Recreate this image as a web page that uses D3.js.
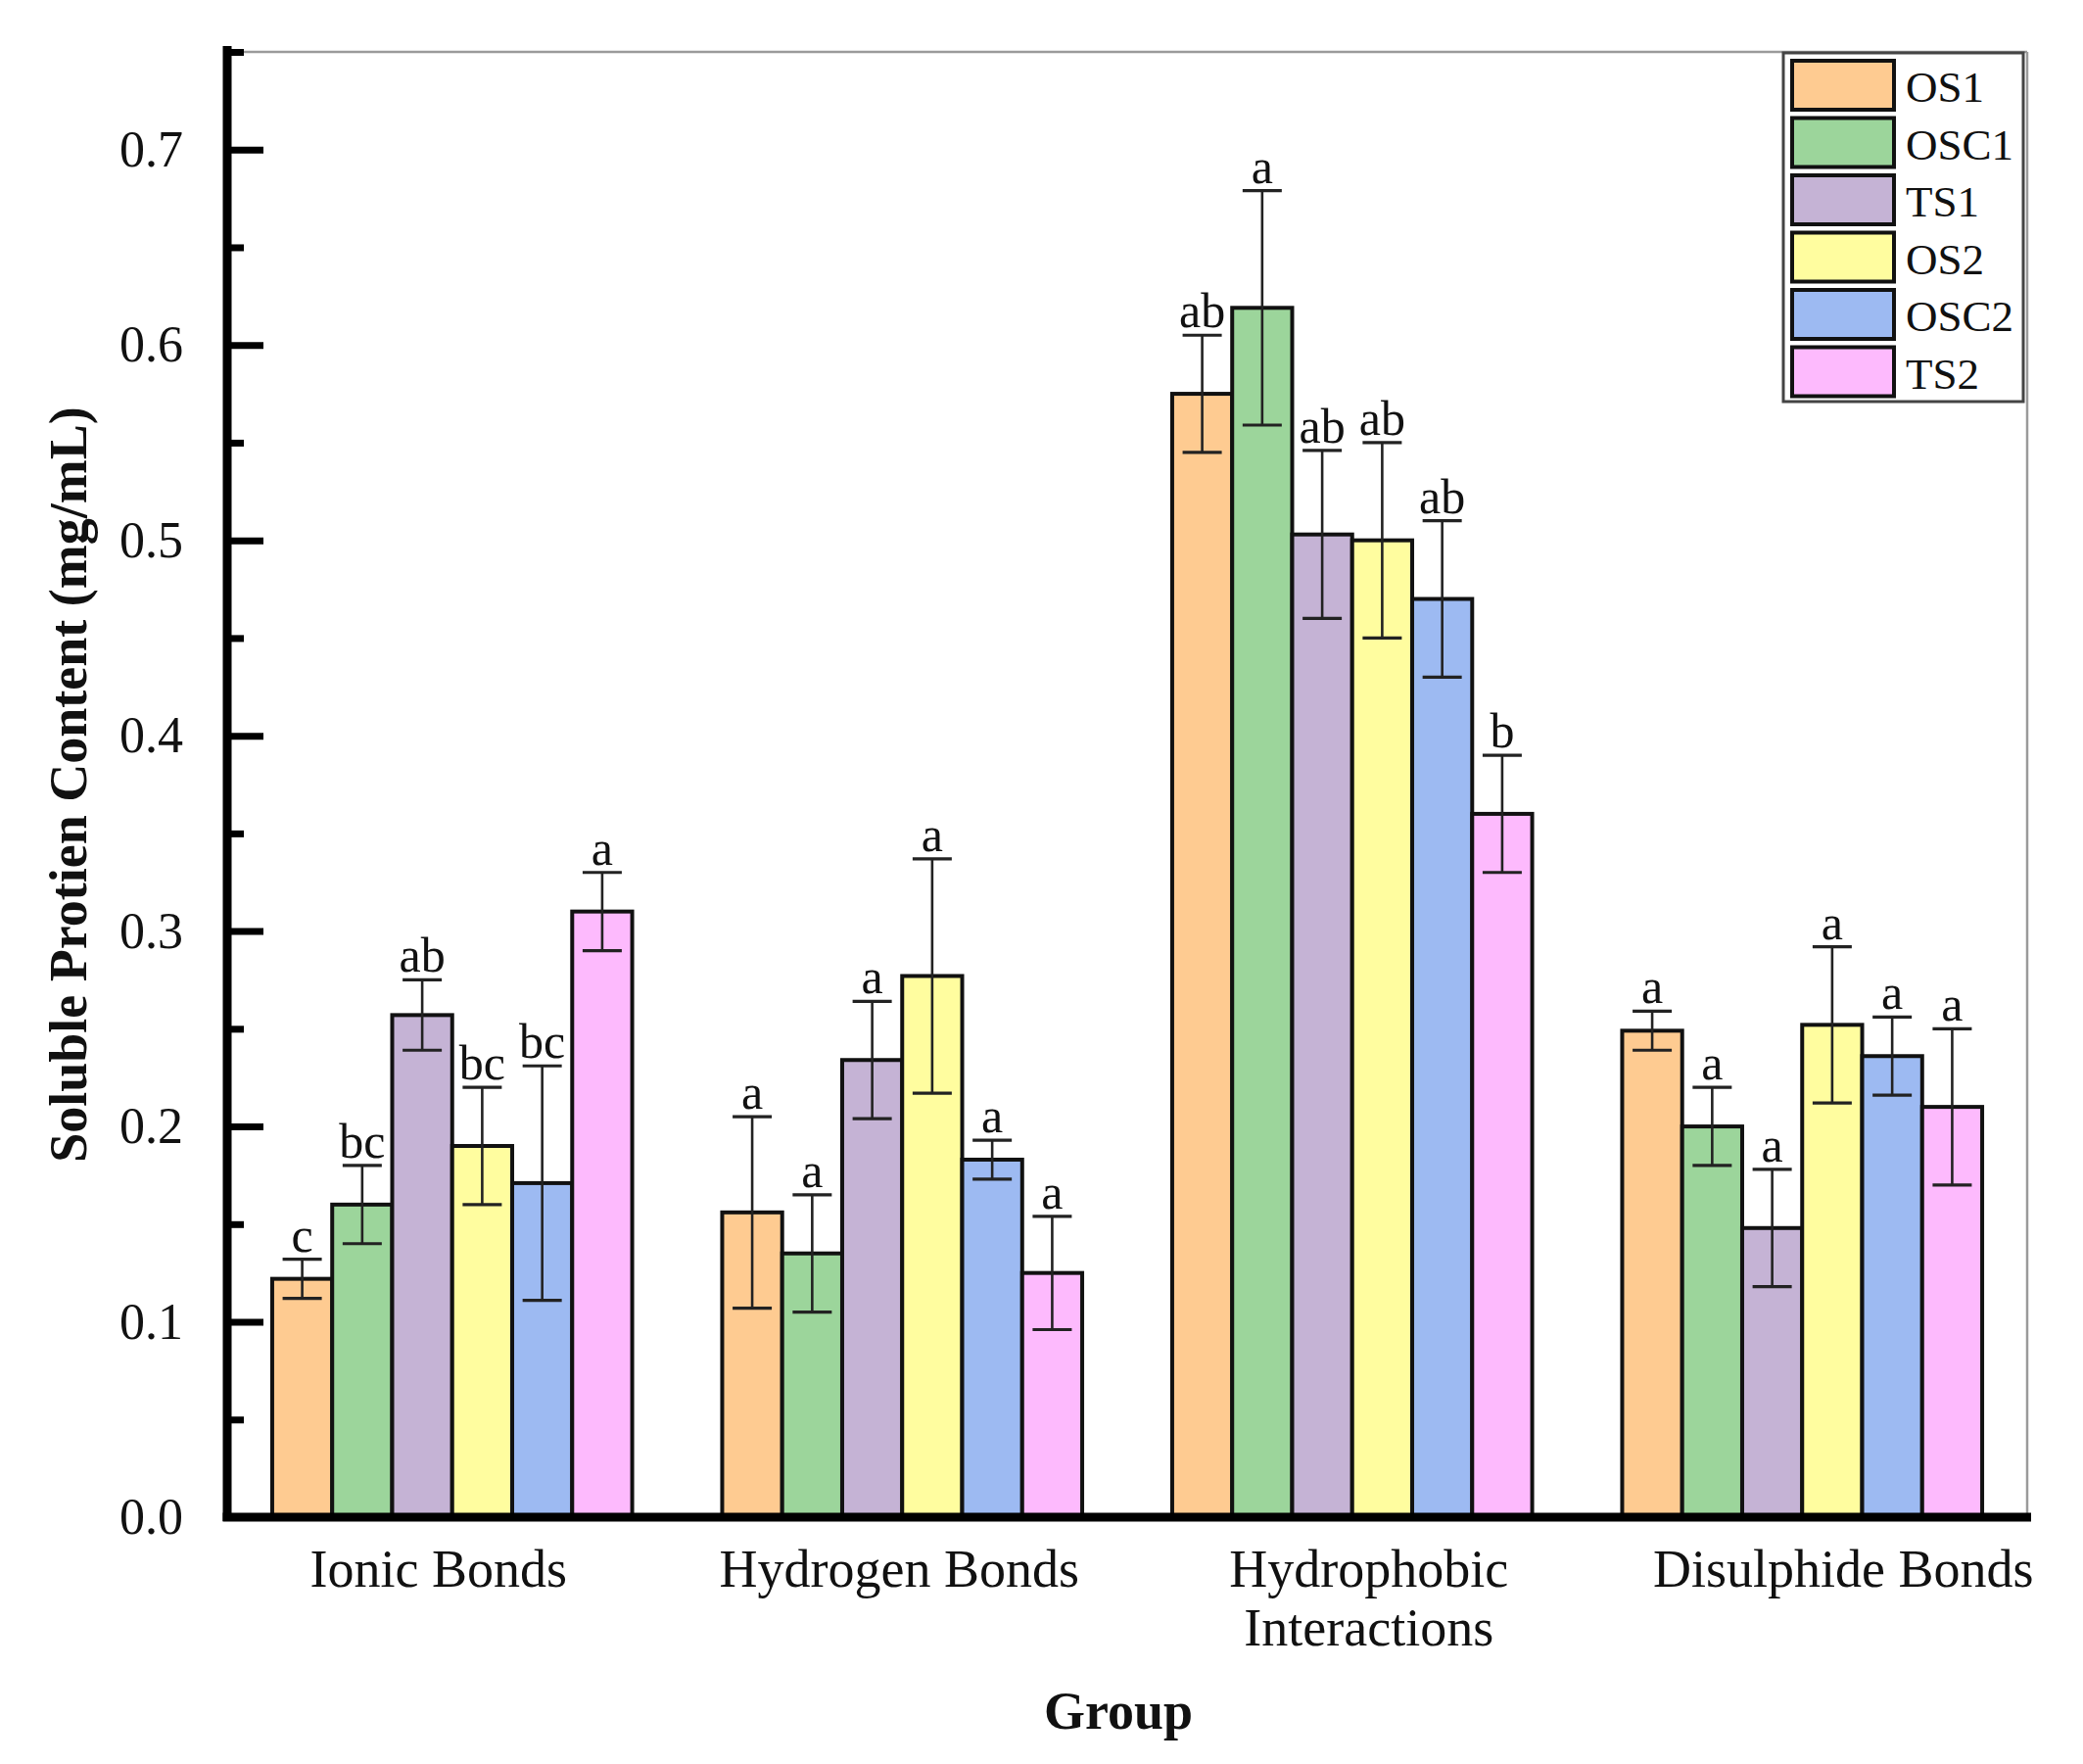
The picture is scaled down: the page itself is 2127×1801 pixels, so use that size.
<!DOCTYPE html>
<html>
<head>
<meta charset="utf-8">
<script src="https://cdn.jsdelivr.net/npm/d3@7/dist/d3.min.js"></script>
<style>
  html, body { margin: 0; padding: 0; background: #fff; }
  svg { display: block; font-family: "Liberation Serif", "Times New Roman", serif; }
</style>
</head>
<body>
<div id="chart"></div>
<script>
// values
const categories = ["Ionic Bonds", "Hydrogen Bonds", "Hydrophobic Interactions", "Disulphide Bonds"];
const series = ["OS1", "OSC1", "TS1", "OS2", "OSC2", "TS2"];
const colors = ["#FECB91", "#9CD59B", "#C5B3D5", "#FFFD9F", "#9DBAF2", "#FDBAFD"];

const OS1  = [0.122, 0.156, 0.575, 0.249];
const OSC1 = [0.160, 0.135, 0.619, 0.200];
const TS1  = [0.257, 0.234, 0.503, 0.148];
const OS2  = [0.190, 0.277, 0.500, 0.252];
const OSC2 = [0.171, 0.183, 0.470, 0.236];
const TS2  = [0.310, 0.125, 0.360, 0.210];

const errOS1  = [0.010, 0.049, 0.030, 0.010];
const errOSC1 = [0.020, 0.030, 0.060, 0.020];
const errTS1  = [0.018, 0.030, 0.043, 0.030];
const errOS2  = [0.030, 0.060, 0.050, 0.040];
const errOSC2 = [0.060, 0.010, 0.040, 0.020];
const errTS2  = [0.020, 0.029, 0.030, 0.040];

const letOS1  = ["c", "a", "ab", "a"];
const letOSC1 = ["bc", "a", "a", "a"];
const letTS1  = ["ab", "a", "ab", "a"];
const letOS2  = ["bc", "a", "ab", "a"];
const letOSC2 = ["bc", "a", "ab", "a"];
const letTS2  = ["a", "a", "b", "a"];

const majorTicks = [0.0, 0.1, 0.2, 0.3, 0.4, 0.5, 0.6, 0.7];
const minorTicks = [0.05, 0.15, 0.25, 0.35, 0.45, 0.55, 0.65, 0.75];

const values = [OS1, OSC1, TS1, OS2, OSC2, TS2];
const errors = [errOS1, errOSC1, errTS1, errOS2, errOSC2, errTS2];
const letters = [letOS1, letOSC1, letTS1, letOS2, letOSC2, letTS2];

// layout
const W = 2127, H = 1801;
const L = 232, R = 2070, T = 53, B = 1549;
const labelNudge = [-14, -3, 17, 42];

const rows = [];
series.forEach((s, si) => categories.forEach((c, ci) => {
  rows.push({ s, c, si, v: values[si][ci], e: errors[si][ci], t: letters[si][ci] });
}));

const svg = d3.select("#chart").append("svg").attr("width", W).attr("height", H);
svg.append("rect").attr("width", W).attr("height", H).attr("fill", "#fff");

const x0 = d3.scaleBand().domain(categories).range([L, R]).paddingInner(0.2).paddingOuter(0.1);
const x1 = d3.scaleBand().domain(series).range([0, x0.bandwidth()]);
const y = d3.scaleLinear().domain([0, 0.75]).range([B, T]);
const color = d3.scaleOrdinal().domain(series).range(colors);

// frame (top / right, thin grey)
svg.append("line").attr("x1", L).attr("x2", R).attr("y1", y(0.75)).attr("y2", y(0.75))
  .attr("stroke", "#9a9a9a").attr("stroke-width", 2.5);
svg.append("line").attr("x1", R).attr("x2", R).attr("y1", y(0.75)).attr("y2", y(0))
  .attr("stroke", "#9a9a9a").attr("stroke-width", 2.5);

// bars
svg.append("g").selectAll("rect").data(rows).join("rect")
  .attr("x", (d) => x0(d.c) + x1(d.s))
  .attr("width", x1.bandwidth())
  .attr("y", (d) => y(d.v))
  .attr("height", (d) => y(0) - y(d.v))
  .attr("fill", (d) => color(d.s))
  .attr("stroke", "#111").attr("stroke-width", 4);

// error bars
const cap = 20;
const eb = svg.append("g").attr("stroke", "#222").attr("stroke-width", 2.6);
eb.selectAll(".stem").data(rows).join("line").attr("class", "stem")
  .attr("x1", (d) => x0(d.c) + x1(d.s) + x1.bandwidth() / 2)
  .attr("x2", (d) => x0(d.c) + x1(d.s) + x1.bandwidth() / 2)
  .attr("y1", (d) => y(d.v + d.e)).attr("y2", (d) => y(d.v - d.e));
eb.selectAll(".capT").data(rows).join("line").attr("class", "capT")
  .attr("x1", (d) => x0(d.c) + x1(d.s) + x1.bandwidth() / 2 - cap)
  .attr("x2", (d) => x0(d.c) + x1(d.s) + x1.bandwidth() / 2 + cap)
  .attr("y1", (d) => y(d.v + d.e)).attr("y2", (d) => y(d.v + d.e)).attr("stroke-width", 3.2);
eb.selectAll(".capB").data(rows).join("line").attr("class", "capB")
  .attr("x1", (d) => x0(d.c) + x1(d.s) + x1.bandwidth() / 2 - cap)
  .attr("x2", (d) => x0(d.c) + x1(d.s) + x1.bandwidth() / 2 + cap)
  .attr("y1", (d) => y(d.v - d.e)).attr("y2", (d) => y(d.v - d.e)).attr("stroke-width", 3.2);

// significance letters
svg.append("g").selectAll("text").data(rows).join("text")
  .attr("x", (d) => x0(d.c) + x1(d.s) + x1.bandwidth() / 2)
  .attr("y", (d) => y(d.v + d.e) - 8)
  .attr("text-anchor", "middle").attr("font-size", 50).attr("fill", "#111")
  .text((d) => d.t);

// y axis: minor then major ticks pointing inward
const ax = svg.append("g").attr("transform", `translate(${L},0)`);
ax.append("g")
  .call(d3.axisLeft(y).tickValues(minorTicks).tickSize(-17).tickFormat(""))
  .call((g) => g.select(".domain").remove())
  .call((g) => g.selectAll("line").attr("stroke", "#000").attr("stroke-width", 7));
ax.append("g")
  .call(d3.axisLeft(y).tickValues(majorTicks).tickSize(-37).tickPadding(45).tickFormat(d3.format(".1f")))
  .call((g) => g.select(".domain").remove())
  .call((g) => g.selectAll("line").attr("stroke", "#000").attr("stroke-width", 7))
  .call((g) => g.selectAll("text").attr("font-size", 52).attr("fill", "#111")
    .attr("font-family", "'Liberation Serif', 'Times New Roman', serif"));

// thick axis lines
svg.append("line").attr("x1", L).attr("x2", L).attr("y1", y(0.75) - 6).attr("y2", y(0) + 4)
  .attr("stroke", "#000").attr("stroke-width", 9);
svg.append("line").attr("x1", L - 4.5).attr("x2", R + 4).attr("y1", y(0)).attr("y2", y(0))
  .attr("stroke", "#000").attr("stroke-width", 9);

// category labels
const cl = svg.append("g").selectAll("text").data(categories).join("text")
  .attr("x", (d, i) => x0(d) + x0.bandwidth() / 2 + labelNudge[i])
  .attr("y", 1620)
  .attr("text-anchor", "middle").attr("font-size", 54).attr("fill", "#111");
cl.each(function (d) {
  const t = d3.select(this);
  const parts = d === "Hydrophobic Interactions" ? ["Hydrophobic", "Interactions"] : [d];
  parts.forEach((p, i) => t.append("tspan").attr("x", t.attr("x")).attr("dy", i ? 60 : 0).text(p));
});

// axis titles
svg.append("text").attr("x", (L + R) / 2 - 9).attr("y", 1765).attr("text-anchor", "middle")
  .attr("font-size", 54).attr("font-weight", "bold").attr("fill", "#111").text("Group");
svg.append("text").attr("transform", "translate(88,801) rotate(-90)").attr("text-anchor", "middle")
  .attr("font-size", 54).attr("font-weight", "bold").attr("fill", "#111")
  .text("Soluble Protien Content (mg/mL)");

// legend
const lg = svg.append("g").attr("transform", "translate(1821,54)");
lg.append("rect").attr("width", 245).attr("height", 356).attr("fill", "#fff")
  .attr("stroke", "#444").attr("stroke-width", 3);
const item = lg.selectAll(".item").data(series).join("g").attr("class", "item")
  .attr("transform", (d, i) => `translate(9,${8 + i * 58.5})`);
item.append("rect").attr("width", 104).attr("height", 50)
  .attr("fill", (d) => color(d)).attr("stroke", "#111").attr("stroke-width", 4);
item.append("text").attr("x", 116).attr("y", 42).attr("font-size", 45).attr("fill", "#111").text((d) => d);
</script>
</body>
</html>
